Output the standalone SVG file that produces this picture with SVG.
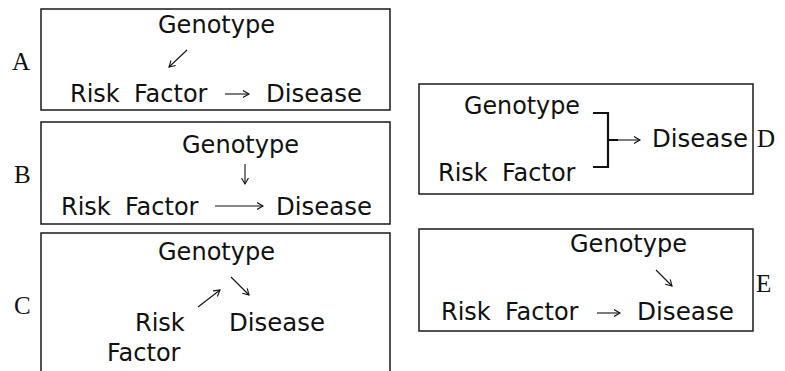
<svg xmlns="http://www.w3.org/2000/svg" width="785" height="371" viewBox="0 0 785 371">
<style>
.box{fill:none;stroke:#1a1a1a;stroke-width:1.5}
.lab{font-family:"Liberation Serif",serif;font-size:25px;fill:#111}
.t{font-family:"DejaVu Sans","Liberation Sans",sans-serif;font-size:24px;fill:#111}
.ar{fill:none;stroke:#111;stroke-width:1.1;marker-end:url(#ah)}
.br{fill:none;stroke:#111;stroke-width:2.2}
</style>
<defs>
<marker id="ah" markerUnits="userSpaceOnUse" markerWidth="10" markerHeight="10" refX="6.5" refY="4" orient="auto">
<path d="M0.5,0.5 L6.5,4 L0.5,7.5" fill="none" stroke="#111" stroke-width="1.1"/>
</marker>
</defs>
<rect width="785" height="371" fill="#fff"/>
<g id="panels">
<g id="panel-A"><rect class="box" x="41" y="9" width="349" height="101"/><text class="lab" x="12" y="70">A</text></g>
<g id="panel-B"><rect class="box" x="41" y="122" width="349" height="102"/><text class="lab" x="14" y="183">B</text></g>
<g id="panel-C"><path class="box" d="M41,371 V233 H390 V371"/><text class="lab" x="14" y="314">C</text></g>
<g id="panel-D"><rect class="box" x="419" y="84" width="334" height="110"/><text class="lab" x="757" y="147">D</text></g>
<g id="panel-E"><rect class="box" x="419" y="229" width="334" height="102"/><text class="lab" x="756" y="292">E</text></g>
</g>
<g id="nodes">
<g id="A-genotype"><text class="t" x="158" y="33" textLength="117" lengthAdjust="spacingAndGlyphs">Genotype</text></g>
<g id="A-risk"><text class="t" y="102"><tspan x="70">Risk</tspan><tspan x="134">Factor</tspan></text></g>
<g id="A-disease"><text class="t" x="266" y="102" textLength="96" lengthAdjust="spacingAndGlyphs">Disease</text></g>
<g id="B-genotype"><text class="t" x="182" y="153" textLength="117" lengthAdjust="spacingAndGlyphs">Genotype</text></g>
<g id="B-risk"><text class="t" y="215"><tspan x="61">Risk</tspan><tspan x="125">Factor</tspan></text></g>
<g id="B-disease"><text class="t" x="276" y="215" textLength="96" lengthAdjust="spacingAndGlyphs">Disease</text></g>
<g id="C-genotype"><text class="t" x="158" y="260" textLength="117" lengthAdjust="spacingAndGlyphs">Genotype</text></g>
<g id="C-risk"><text class="t"><tspan x="135" y="331">Risk</tspan><tspan x="107" y="361">Factor</tspan></text></g>
<g id="C-disease"><text class="t" x="229" y="331" textLength="96" lengthAdjust="spacingAndGlyphs">Disease</text></g>
<g id="D-genotype"><text class="t" x="464" y="114" textLength="116" lengthAdjust="spacingAndGlyphs">Genotype</text></g>
<g id="D-risk"><text class="t" y="181"><tspan x="438">Risk</tspan><tspan x="502">Factor</tspan></text></g>
<g id="D-disease"><text class="t" x="652" y="147" textLength="96" lengthAdjust="spacingAndGlyphs">Disease</text></g>
<g id="E-genotype"><text class="t" x="570" y="252" textLength="117" lengthAdjust="spacingAndGlyphs">Genotype</text></g>
<g id="E-risk"><text class="t" y="320"><tspan x="441">Risk</tspan><tspan x="505">Factor</tspan></text></g>
<g id="E-disease"><text class="t" x="637" y="320" textLength="97" lengthAdjust="spacingAndGlyphs">Disease</text></g>
</g>
<g id="connectors">
<path class="ar" d="M187,50 L169,67"/>
<path class="ar" d="M225,94 H249"/>
<path class="ar" d="M245,164 V184"/>
<path class="ar" d="M215,206 H263"/>
<path class="ar" d="M198,307 L220,290"/>
<path class="ar" d="M231,277 L249,295"/>
<path class="br" d="M593,113 H608 V167 H593 M608,140 H618"/>
<path class="ar" d="M618,140 H640"/>
<path class="ar" d="M656,270 L672,286"/>
<path class="ar" d="M597,313 H620"/>
</g>
</svg>
